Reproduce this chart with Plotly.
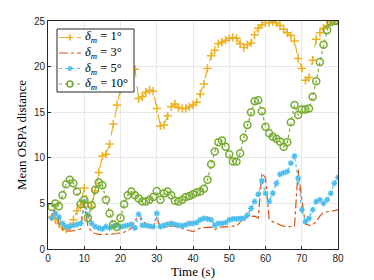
import plotly.graph_objects as go

t = list(range(1, 81))

d1 = [3.5, 3.3, 2.8, 2.4, 2.2, 2.5, 3.2, 4.2, 4.8, 6.7,
      5.0, 4.6, 6.4, 8.4, 10.2, 10.4, 11.5, 13.7, 15.8, 17.5,
      18.7, 19.3, 19.6, 19.7, 16.5, 16.7, 17.2, 17.4, 17.3, 15.4,
      13.5, 13.6, 14.6, 15.6, 15.9, 15.5, 15.4, 15.4, 15.6, 15.8,
      16.1, 17.0, 18.1, 19.8, 21.2, 21.8, 22.5, 22.7, 22.9, 23.1,
      23.2, 23.1, 22.5, 22.1, 22.4, 22.6, 23.5, 24.2, 24.6, 24.8,
      24.8, 24.9, 24.8, 24.5, 24.1, 23.7, 23.4, 22.8, 20.9, 19.8,
      18.5, 18.8, 20.7, 23.0, 23.7, 24.2, 24.5, 24.9, 25.0, 25.0]

d3 = [3.4, 4.4, 2.8, 2.2, 2.0, 1.95, 2.0, 2.05, 2.2, 5.0,
      2.5, 1.9, 1.7, 1.6, 1.6, 1.6, 1.6, 1.65, 1.7, 1.75,
      1.85, 2.0, 2.3, 3.0, 3.9, 3.2, 2.7, 2.5, 2.4, 3.5,
      2.3, 2.35, 2.45, 2.5, 2.5, 2.4, 2.3, 2.15, 2.0, 1.9,
      2.1, 2.3, 2.35, 2.4, 2.4, 2.1, 2.4, 2.4, 2.45, 2.45,
      2.5, 2.5, 3.0, 3.4, 3.55, 3.6, 3.6, 3.4, 8.3, 7.8,
      3.3, 3.0, 2.8, 2.65, 2.5, 2.45, 2.45, 2.5, 8.7, 5.5,
      2.75, 2.6, 2.65, 3.0, 3.6, 4.0, 4.1, 4.15, 4.2, 4.3]

d5 = [3.4, 3.9, 3.5, 2.8, 2.45, 2.45, 2.6, 2.7, 2.8, 5.2,
      3.7, 2.8, 2.45, 2.3, 2.2, 2.45, 2.3, 2.5, 2.6, 2.45,
      2.5, 2.6, 2.7, 2.3, 3.8, 2.6, 2.6, 2.5, 2.45, 3.9,
      2.45, 2.6, 2.7, 2.8, 2.7, 2.6, 2.55, 2.65, 2.8, 2.8,
      2.9, 3.2, 3.35, 3.3, 3.2, 2.6, 2.8, 2.8, 2.9, 3.2,
      3.3, 3.3, 3.35, 3.35, 3.7, 4.45, 5.2, 6.0, 7.5, 6.1,
      5.2, 6.1, 7.2, 8.2, 8.35, 8.5, 9.4, 10.2, 7.75, 4.3,
      3.0, 3.35, 4.3, 5.2, 5.4, 5.0, 5.4, 6.1, 7.2, 7.85]

d10 = [4.6, 5.0, 4.7, 5.9, 7.1, 7.6, 7.2, 6.3, 4.9, 5.4,
       3.4, 4.8, 6.5, 7.3, 7.0, 5.4, 3.9, 2.7, 2.4, 3.4,
       4.9, 5.9, 6.3, 5.9, 5.55, 5.2, 5.2, 5.4, 5.7, 6.35,
       5.4, 6.1, 6.3, 5.9, 5.3, 5.2, 5.4, 5.7, 5.8, 6.0,
       6.2, 6.3, 6.6, 7.6, 9.3, 10.7, 11.7, 11.9, 11.2, 10.4,
       9.6, 9.6, 10.5, 12.2, 13.6, 15.0, 16.2, 16.3, 15.1, 13.4,
       12.7, 12.3, 12.1, 11.8, 11.2, 11.7, 13.9, 15.8, 14.7, 15.3,
       15.3, 15.4, 16.7, 18.4, 20.5, 22.4, 24.0, 24.9, 25.0, 25.0]

names = ["<i>δ<sub>m</sub></i> = 1°", "<i>δ<sub>m</sub></i> = 3°",
         "<i>δ<sub>m</sub></i> = 5°", "<i>δ<sub>m</sub></i> = 10°"]
colors = ["#EDB120", "#D95319", "#4DBEEE", "#77AC30"]
dashes = ["dash", "dashdot", "dot", "dot"]
series = [d1, d3, d5, d10]

fig = go.Figure()
fig.add_trace(go.Scatter(x=t, y=d1, name=names[0], mode="lines+markers",
                         line=dict(color=colors[0], width=1.2, dash=dashes[0]),
                         marker=dict(symbol="cross-thin-open", size=6,
                                     line=dict(color=colors[0], width=1.5))))
fig.add_trace(go.Scatter(x=t, y=d3, name=names[1], mode="lines",
                         line=dict(color=colors[1], width=1.2, dash=dashes[1])))
fig.add_trace(go.Scatter(x=t, y=d5, name=names[2], mode="lines+markers",
                         line=dict(color=colors[2], width=1.2, dash=dashes[2]),
                         marker=dict(symbol="asterisk-open", size=5,
                                     line=dict(color=colors[2], width=1.3))))
fig.add_trace(go.Scatter(x=t, y=d10, name=names[3], mode="lines+markers",
                         line=dict(color=colors[3], width=1.2, dash=dashes[3]),
                         marker=dict(symbol="circle-open", size=7,
                                     line=dict(color=colors[3], width=1.5))))

# ---- compact legend box (layout styling, paper coordinates) ----
PL, PR, PT, PB = 48.0, 338.0, 21.0, 249.0   # plot area in page pixels
def px(X):
    return (X - PL) / (PR - PL)
def py(Y):
    return (PB - Y) / (PB - PT)

shapes = []
annotations = []
shapes.append(dict(type="rect", xref="paper", yref="paper",
                   x0=px(57), x1=px(134), y0=py(92), y1=py(29),
                   fillcolor="white", line=dict(color="#262626", width=1),
                   layer="above"))
row_y = [37.5, 53.0, 68.5, 84.0]
for i in range(4):
    Y = row_y[i]
    c = colors[i]
    shapes.append(dict(type="line", xref="paper", yref="paper",
                       x0=px(59), x1=px(81), y0=py(Y), y1=py(Y),
                       line=dict(color=c, width=1.2, dash=dashes[i]), layer="above"))
    if i == 0:
        shapes.append(dict(type="line", xref="paper", yref="paper",
                           x0=px(67), x1=px(73), y0=py(Y), y1=py(Y),
                           line=dict(color=c, width=1.5), layer="above"))
        shapes.append(dict(type="line", xref="paper", yref="paper",
                           x0=px(70), x1=px(70), y0=py(Y - 3), y1=py(Y + 3),
                           line=dict(color=c, width=1.5), layer="above"))
    elif i == 2:
        for (dx, dy) in [(2.5, 0), (0, 2.5), (1.8, 1.8), (1.8, -1.8)]:
            shapes.append(dict(type="line", xref="paper", yref="paper",
                               x0=px(70 - dx), x1=px(70 + dx),
                               y0=py(Y - dy), y1=py(Y + dy),
                               line=dict(color=c, width=1.3), layer="above"))
    elif i == 3:
        shapes.append(dict(type="circle", xref="paper", yref="paper",
                           x0=px(67), x1=px(73), y0=py(Y + 3), y1=py(Y - 3),
                           line=dict(color=c, width=1.5), layer="above"))
    annotations.append(dict(xref="paper", yref="paper", x=px(83), y=py(Y),
                            xanchor="left", yanchor="middle", showarrow=False,
                            text=names[i],
                            font=dict(family="Liberation Serif", size=12.5,
                                      color="#000000")))

axis_common = dict(showline=True, linecolor="#262626", linewidth=1, mirror=True,
                   ticks="inside", ticklen=3, tickcolor="#262626",
                   showgrid=True, gridcolor="#e8e8e8", gridwidth=1,
                   zeroline=False, automargin=False,
                   tickfont=dict(family="Liberation Sans", size=10, color="#262626"))

fig.update_layout(
    width=366, height=272,
    margin=dict(l=40, r=36, t=13, b=31, pad=0),
    paper_bgcolor="white", plot_bgcolor="white",
    showlegend=False,
    shapes=shapes,
    annotations=annotations,
    xaxis=dict(range=[0, 80], dtick=10,
               title=dict(text="Time (s)", standoff=2,
                          font=dict(family="Liberation Serif", size=13, color="#000000")),
               **axis_common),
    yaxis=dict(range=[0, 25], dtick=5,
               title=dict(text="Mean OSPA distance", standoff=4,
                          font=dict(family="Liberation Serif", size=13, color="#000000")),
               **axis_common),
)

fig.write_html("out.html")
